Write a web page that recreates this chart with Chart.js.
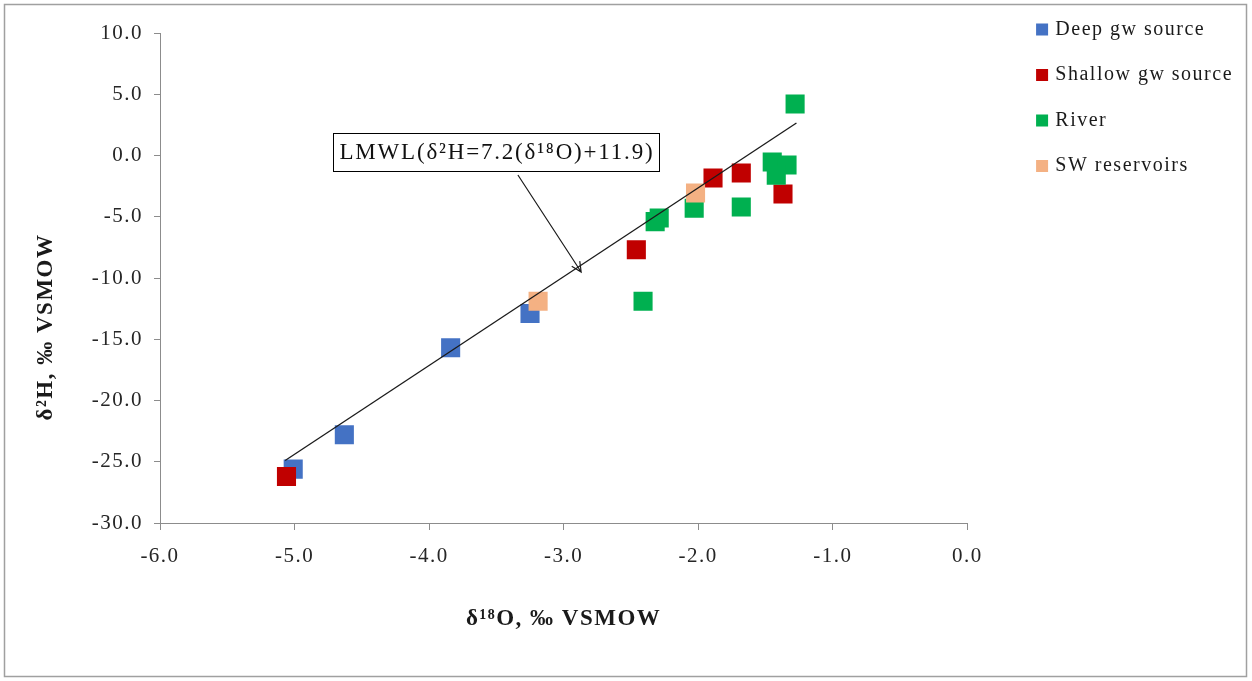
<!DOCTYPE html>
<html>
<head>
<meta charset="utf-8">
<title>δ2H vs δ18O</title>
<script src="https://cdn.jsdelivr.net/npm/chart.js@4"></script>
<style>
  html, body { margin: 0; padding: 0; background: #fff; }
  #wrap { position: relative; width: 1252px; height: 681px; }
</style>
</head>
<body>
<div id="wrap"><canvas id="isotopes"></canvas></div>
<script>
// values: δ18O (x) and δ2H (y), ‰ VSMOW
const seriesNames = ['Deep gw source', 'Shallow gw source', 'River', 'SW reservoirs'];
const seriesColors = ['#4472C4', '#C00000', '#00B050', '#F4B183'];

const deepO = [-5.01, -4.63, -3.84, -3.25];
const deepH = [-25.6, -22.8, -15.7, -12.9];
const shallowO = [-5.06, -2.46, -1.89, -1.68, -1.37];
const shallowH = [-26.2, -7.7, -1.84, -1.43, -3.14];
const riverO = [-1.28, -1.45, -1.34, -1.42, -1.68, -2.03, -2.29, -2.32, -2.41];
const riverH = [4.2, -0.53, -0.78, -1.6, -4.2, -4.3, -5.1, -5.4, -11.9];
const swO = [-2.02, -3.19];
const swH = [-3.06, -11.9];

// LMWL as drawn (end points)
const lmwlO = [-5.07, -1.27];
const lmwlH = [-24.9, 2.65];
const lmwlLabel = 'LMWL(δ²H=7.2(δ¹⁸O)+11.9)';

const xTitle = 'δ¹⁸O, ‰ VSMOW';
const yTitle = 'δ²H, ‰ VSMOW';

const serif = "'Liberation Serif', 'Times New Roman', serif";
const axisGray = '#8c8c8c';
const textColor = '#262626';
const letterGap = 1.5;

const toPoints = (xs, ys) => xs.map((x, i) => ({x: x, y: ys[i]}));
const pointSets = [[deepO, deepH], [shallowO, shallowH], [riverO, riverH], [swO, swH]];

const datasets = pointSets.map((s, i) => ({
    label: seriesNames[i],
    data: toPoints(s[0], s[1]),
    backgroundColor: seriesColors[i],
    borderColor: seriesColors[i],
    borderWidth: 0,
    pointStyle: 'rect',
    pointRadius: 13.5,
    pointHoverRadius: 13.5,
    order: 4 - i          // excel draws later series on top
}));
datasets.push({
    label: 'LMWL',
    type: 'line',
    data: toPoints(lmwlO, lmwlH),
    borderColor: '#1a1a1a',
    borderWidth: 1.3,
    pointRadius: 0,
    fill: false,
    order: 0
});

// the figure's text is wide, emulate with letter spacing
const spacing = {
    id: 'spacing',
    beforeLayout(chart) { chart.ctx.letterSpacing = letterGap + 'px'; },
    beforeDraw(chart) { chart.ctx.letterSpacing = letterGap + 'px'; }
};

// legend sits a little higher than chart.js puts it, and its text is
// wider than measured (letter spacing), so widen its clip box
const legendShift = {
    id: 'legendShift',
    afterLayout(chart) {
        const lg = chart.legend;
        lg.top -= 6;
        lg.bottom -= 6;
        lg.right = chart.width;
        lg.width = lg.right - lg.left;
    }
};

const frameAndLabel = {
    id: 'frameAndLabel',
    afterDraw(chart) {
        const {ctx} = chart;
        const x = chart.scales.x, y = chart.scales.y;
        ctx.save();
        ctx.letterSpacing = letterGap + 'px';

        // outer frame
        ctx.strokeStyle = '#a0a0a0';
        ctx.lineWidth = 1.5;
        ctx.strokeRect(4.5, 4.5, 1242, 672);

        // y axis title (sits lower than the axis centre in the figure)
        ctx.save();
        ctx.translate(46, y.getPixelForValue(-14));
        ctx.rotate(-Math.PI / 2);
        ctx.font = 'bold 23px ' + serif;
        ctx.fillStyle = '#1a1a1a';
        ctx.textAlign = 'center';
        ctx.textBaseline = 'middle';
        ctx.fillText(yTitle, 0, 0);
        ctx.restore();

        // arrow from the label to the line
        const x0 = x.getPixelForValue(-3.34), y0 = y.getPixelForValue(-1.59);
        const x1 = x.getPixelForValue(-2.87), y1 = y.getPixelForValue(-9.51);
        const ang = Math.atan2(y1 - y0, x1 - x0);
        ctx.strokeStyle = '#1a1a1a';
        ctx.lineWidth = 1.2;
        ctx.beginPath();
        ctx.moveTo(x0, y0);
        ctx.lineTo(x1, y1);
        ctx.moveTo(x1 - 11 * Math.cos(ang - 0.45), y1 - 11 * Math.sin(ang - 0.45));
        ctx.lineTo(x1, y1);
        ctx.lineTo(x1 - 11 * Math.cos(ang + 0.45), y1 - 11 * Math.sin(ang + 0.45));
        ctx.stroke();

        // boxed label
        const gap = 1.8;
        ctx.font = '23px ' + serif;
        ctx.letterSpacing = '0px';
        const w = ctx.measureText(lmwlLabel).width + gap * [...lmwlLabel].length;
        ctx.letterSpacing = gap + 'px';
        const cx = x.getPixelForValue(-3.505), cy = y.getPixelForValue(0.29);
        const bw = Math.round(w + 11), bh = 38;
        const bx = Math.round(cx - bw / 2) + 0.5, by = Math.round(cy - bh / 2) + 0.5;
        ctx.fillStyle = '#fff';
        ctx.fillRect(bx, by, bw, bh);
        ctx.strokeStyle = '#000';
        ctx.lineWidth = 1;
        ctx.strokeRect(bx, by, bw, bh);
        ctx.fillStyle = '#111';
        ctx.textAlign = 'left';
        ctx.textBaseline = 'middle';
        ctx.fillText(lmwlLabel, bx + 6, cy + 1);
        ctx.restore();
    }
};

new Chart(document.getElementById('isotopes'), {
    type: 'scatter',
    data: { datasets: datasets },
    plugins: [spacing, legendShift, frameAndLabel],
    options: {
        responsive: true,
        maintainAspectRatio: false,
        animation: false,
        events: [],
        layout: { padding: { left: 0, right: 36, top: 0, bottom: 0 } },
        plugins: {
            tooltip: { enabled: false },
            legend: {
                position: 'right',
                align: 'start',
                labels: {
                    usePointStyle: true,
                    boxWidth: 6.5,
                    boxHeight: 12,
                    padding: 25.5,
                    color: '#1a1a1a',
                    font: { family: serif, size: 20 },
                    filter: item => item.datasetIndex < 4,
                    sort: (a, b) => a.datasetIndex - b.datasetIndex
                }
            }
        },
        scales: {
            x: {
                type: 'linear',
                position: 'bottom',
                min: -6,
                max: 0,
                ticks: {
                    stepSize: 1,
                    autoSkip: false,
                    maxRotation: 0,
                    padding: 14,
                    color: textColor,
                    font: { family: serif, size: 21 },
                    callback: v => v.toFixed(1)
                },
                grid: { drawOnChartArea: false, drawTicks: true, tickLength: 7, color: axisGray },
                border: { color: axisGray, width: 1 },
                title: {
                    display: true,
                    text: xTitle,
                    color: '#1a1a1a',
                    font: { family: serif, size: 23, weight: 'bold' },
                    padding: { top: 0, bottom: 48 }
                },
                afterFit: s => { s.height = 158; }
            },
            y: {
                type: 'linear',
                position: 'left',
                min: -30,
                max: 10,
                ticks: {
                    stepSize: 5,
                    padding: 11,
                    color: textColor,
                    font: { family: serif, size: 21 },
                    callback: v => v.toFixed(1)
                },
                grid: { drawOnChartArea: false, drawTicks: true, tickLength: 6, color: axisGray },
                border: { color: axisGray, width: 1 },
                title: { display: false },
                afterFit: s => { s.width = 160; }
            },
            xTop: {
                type: 'linear',
                position: 'top',
                grid: { display: false },
                ticks: { display: false },
                border: { display: false },
                afterFit: s => { s.height = 33; }
            },
            yPad: {
                type: 'linear',
                position: 'right',
                grid: { display: false },
                ticks: { display: false },
                border: { display: false },
                afterFit: s => { s.width = 46; }
            }
        }
    }
});
</script>
</body>
</html>
